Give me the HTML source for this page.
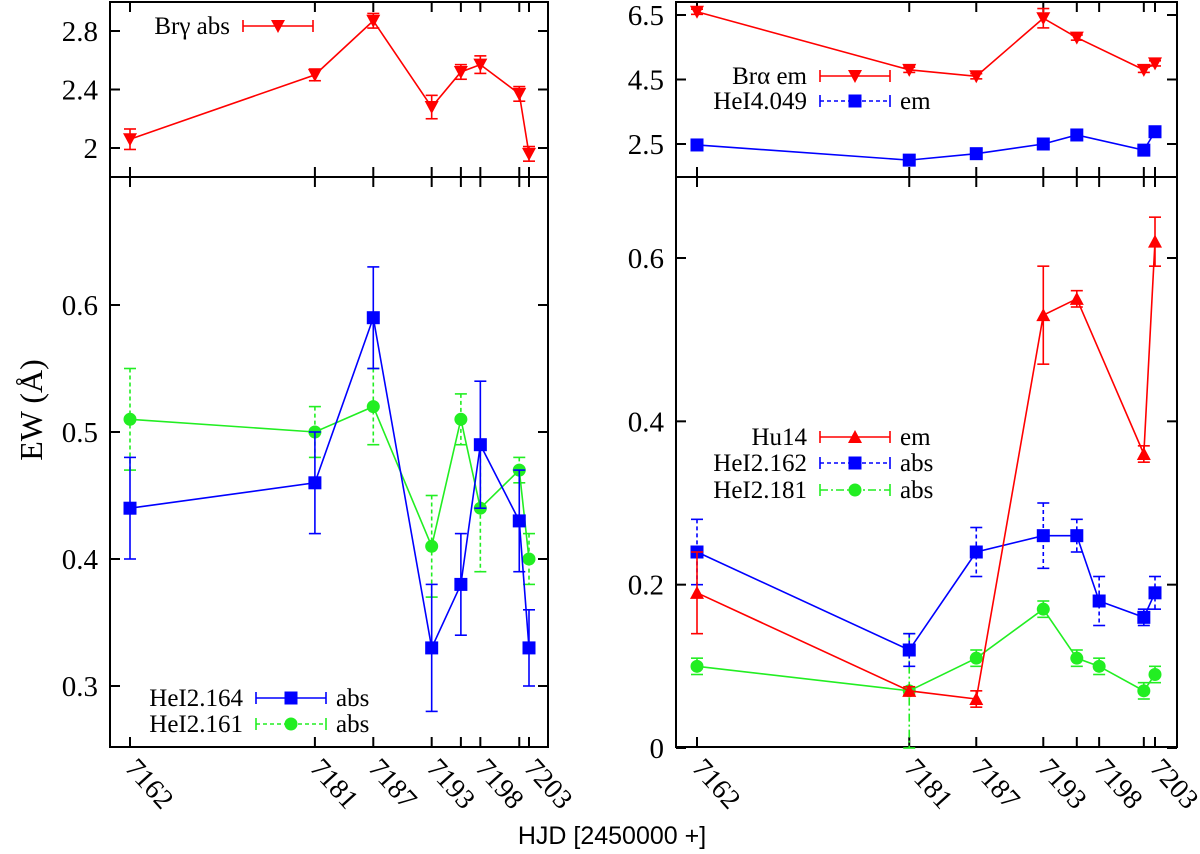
<!DOCTYPE html>
<html><head><meta charset="utf-8"><style>
body{margin:0;background:#fff}
svg{display:block}
</style></head><body>
<svg id="c" width="1200" height="854" xmlns="http://www.w3.org/2000/svg"></svg>
<script>
const days=[7162,7181,7187,7193,7196,7198,7202,7203];
const tickLabels=[7162,7181,7187,7193,7198,7203];
const brgV=[2.06,2.50,2.87,2.28,2.52,2.57,2.37,1.96];
const brgE=[0.07,0.04,0.05,0.08,0.05,0.06,0.05,0.05];
const he164V=[0.44,0.46,0.59,0.33,0.38,0.49,0.43,0.33];
const he164E=[0.04,0.04,0.04,0.05,0.04,0.05,0.04,0.03];
const he161V=[0.51,0.50,0.52,0.41,0.51,0.44,0.47,0.40];
const he161E=[0.04,0.02,0.03,0.04,0.02,0.05,0.01,0.02];
const braDays=[7162,7181,7187,7193,7196,7202,7203];
const braV=[6.6,4.8,4.6,6.4,5.8,4.8,5.0];
const braE=[0.08,0.08,0.08,0.3,0.08,0.08,0.08];
const he4049Days=[7162,7181,7187,7193,7196,7202,7203];
const he4049V=[2.47,2.0,2.2,2.5,2.78,2.31,2.88];
const he4049E=[0.05,0.05,0.05,0.15,0.05,0.05,0.05];
const hu14Days=[7162,7181,7187,7193,7196,7202,7203];
const hu14V=[0.19,0.07,0.06,0.53,0.55,0.36,0.62];
const hu14E=[0.05,0.005,0.01,0.06,0.01,0.01,0.03];
const he162V=[0.24,0.12,0.24,0.26,0.26,0.18,0.16,0.19];
const he162E=[0.04,0.02,0.03,0.04,0.02,0.03,0.01,0.02];
const he181V=[0.10,0.07,0.11,0.17,0.11,0.10,0.07,0.09];
const he181E=[0.01,0.07,0.01,0.01,0.01,0.01,0.01,0.01];

const svg=document.getElementById('c');
const NS='http://www.w3.org/2000/svg';
const SERIF='"Liberation Serif", serif';
function el(tag,attrs,parent){const e=document.createElementNS(NS,tag);for(const k in attrs)e.setAttribute(k,attrs[k]);(parent||svg).appendChild(e);return e;}
function txt(x,y,s,size,anchor,extra,parent){const t=el('text',Object.assign({x:x,y:y,'font-size':size,'text-anchor':anchor||'start','font-family':SERIF,fill:'#000'},extra||{}),parent);t.textContent=s;return t;}

function mkPanel(L,R,T,B,xa,xb,ya,va,yb,vb){
  return {L,R,T,B,sx:d=>xa+(d-7162)*(xb-xa)/41,sy:v=>ya+(v-va)*(yb-ya)/(vb-va)};
}
const pTL=mkPanel(110,548,2,177,130,529,31,2.8,148,2.0);
const pBL=mkPanel(110,548,177,747,130,529,305,0.6,686,0.3);
const pTR=mkPanel(676,1177,2,177,697,1155,15,6.5,144,2.5);
const pBR=mkPanel(676,1177,177,747,697,1155,258,0.6,748,0.0);

function frame(p,yticks,fmt,name,xlabels){
  const g=el('g',{});
  
  
  el('rect',{x:p.L,y:p.T,width:p.R-p.L,height:p.B-p.T,fill:'none',stroke:'#000','stroke-width':2},g);
  yticks.forEach(v=>{const y=p.sy(v);
    el('line',{x1:p.L,y1:y,x2:p.L+10,y2:y,stroke:'#000','stroke-width':2},g);
    el('line',{x1:p.R,y1:y,x2:p.R-10,y2:y,stroke:'#000','stroke-width':2},g);
    const t=txt(p.L-12,y+10,fmt(v),29,'end',{},g);
    
    
  });
  days.forEach(d=>{const x=p.sx(d);
    el('line',{x1:x,y1:p.B,x2:x,y2:p.B-10,stroke:'#000','stroke-width':2},g);
    el('line',{x1:x,y1:p.T,x2:x,y2:p.T+10,stroke:'#000','stroke-width':2},g);
  });
  if(xlabels){tickLabels.forEach(d=>{const x=p.sx(d);
    const t=txt(x-6,p.B+22,String(d),28,'start',{transform:`rotate(48 ${x-6} ${p.B+22})`},g);
    
    
  });}
}
frame(pTL,[2.0,2.4,2.8],v=>v===2?'2':v.toFixed(1),'panel-br-gamma',false);
frame(pBL,[0.3,0.4,0.5,0.6],v=>v.toFixed(1),'panel-hei-2164',true);
frame(pTR,[2.5,4.5,6.5],v=>v.toFixed(1),'panel-br-alpha',false);
frame(pBR,[0,0.2,0.4,0.6],v=>v===0?'0':v.toFixed(1),'panel-hu14',true);

function marker(x,y,type,color,g){
  if(type==='tdown')el('path',{d:`M${x-7},${y-6}L${x+7},${y-6}L${x},${y+7}Z`,fill:color},g);
  else if(type==='tup')el('path',{d:`M${x-7},${y+6}L${x+7},${y+6}L${x},${y-7}Z`,fill:color},g);
  else if(type==='sq')el('rect',{x:x-6.5,y:y-6.5,width:13,height:13,fill:color},g);
  else el('circle',{cx:x,cy:y,r:6.5,fill:color},g);
}
function series(p,ds,vs,es,color,type,dash,name){
  const g=el('g',{});
  
  
  const pts=ds.map((d,i)=>[p.sx(d),p.sy(vs[i])]);
  el('polyline',{points:pts.map(q=>q.join(',')).join(' '),fill:'none',stroke:color,'stroke-width':1.6},g);
  ds.forEach((d,i)=>{const x=p.sx(d),ya=p.sy(vs[i]+es[i]),yb=p.sy(vs[i]-es[i]);
    const a={stroke:color,'stroke-width':1.6};if(dash)a['stroke-dasharray']=dash;
    el('line',Object.assign({x1:x,y1:ya,x2:x,y2:yb},a),g);
    el('line',{x1:x-6,y1:ya,x2:x+6,y2:ya,stroke:color,'stroke-width':1.6},g);
    el('line',{x1:x-6,y1:yb,x2:x+6,y2:yb,stroke:color,'stroke-width':1.6},g);
  });
  pts.forEach(q=>marker(q[0],q[1],type,color,g));
}
series(pTL,days,brgV,brgE,'#ff0000','tdown',null,'series-br-gamma');
series(pBL,days,he161V,he161E,'#22ee22','circ','4,3','series-hei-2161');
series(pBL,days,he164V,he164E,'#0000ff','sq',null,'series-hei-2164');
series(pTR,braDays,braV,braE,'#ff0000','tdown',null,'series-br-alpha');
series(pTR,he4049Days,he4049V,he4049E,'#0000ff','sq','4,3','series-hei-4049');
series(pBR,days,he181V,he181E,'#22ee22','circ','8,3,2,3','series-hei-2181');
series(pBR,days,he162V,he162E,'#0000ff','sq','4,3','series-hei-2162');
series(pBR,hu14Days,hu14V,hu14E,'#ff0000','tup',null,'series-hu14');

function legend(x,y,label,color,type,dash,suffix,name){
  const g=el('g',{});
  
  
  txt(x,y+8,label,25,'end',{},g);
  const a={stroke:color,'stroke-width':1.6};if(dash)a['stroke-dasharray']=dash;
  el('line',Object.assign({x1:x+13,y1:y,x2:x+83,y2:y},a),g);
  el('line',{x1:x+13,y1:y-6,x2:x+13,y2:y+6,stroke:color,'stroke-width':1.6},g);
  el('line',{x1:x+83,y1:y-6,x2:x+83,y2:y+6,stroke:color,'stroke-width':1.6},g);
  marker(x+48,y,type,color,g);
  if(suffix)txt(x+93,y+8,suffix,25,'start',{},g);
}
legend(230,26,'Brγ abs','#ff0000','tdown',null,'','legend-br-gamma');
legend(807,76,'Brα em','#ff0000','tdown',null,'','legend-br-alpha');
legend(807,101,'HeI4.049','#0000ff','sq','4,3','em','legend-hei-4049');
legend(807,437,'Hu14','#ff0000','tup',null,'em','legend-hu14');
legend(807,463,'HeI2.162','#0000ff','sq','4,3','abs','legend-hei-2162');
legend(807,490,'HeI2.181','#22ee22','circ','8,3,2,3','abs','legend-hei-2181');
legend(243,698,'HeI2.164','#0000ff','sq',null,'abs','legend-hei-2164');
legend(243,724,'HeI2.161','#22ee22','circ','4,3','abs','legend-hei-2161');

const yl=txt(42,410,'EW (Å)',32,'middle',{transform:'rotate(-90 42 410)'});


const xl=txt(612,844,'HJD [2450000 +]',25,'middle',{'font-family':'"Liberation Sans", sans-serif'});


</script>
</body></html>
